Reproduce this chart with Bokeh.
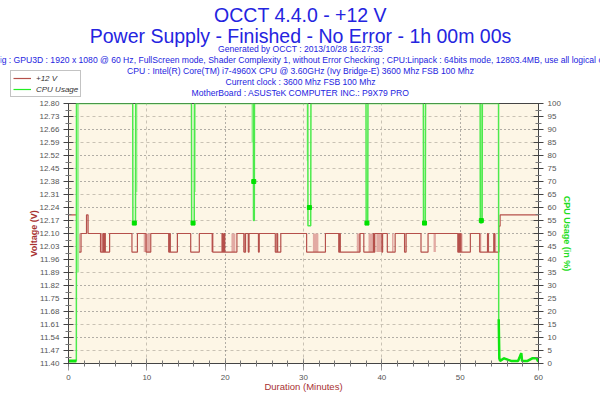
from bokeh.plotting import figure
from bokeh.layouts import column
from bokeh.models import (Range1d, LinearAxis, FixedTicker, Grid, Legend, LegendItem)
from bokeh.core.properties import value
from bokeh.embed import file_html
from bokeh.resources import INLINE

# ---------------- data ----------------
# +12 V rail: step changes (minute, volts)
volt_t = [0.0, 1.1, 1.6, 2.3, 2.5, 4.1, 4.4, 4.5, 4.6, 4.7, 5.25, 8.1, 8.8,
          9.9, 10.5, 12.8, 12.9, 13.0, 13.9, 15.6, 16.7, 18.4, 19.6, 19.7,
          19.85, 19.95, 21.5, 22.4, 22.6, 22.95, 23.05, 24.1, 24.25, 24.35,
          26.4, 26.6, 26.7, 27.1, 30.4, 32.7, 32.8, 34.5, 34.6, 34.7, 37.2,
          37.7, 38.9, 39.0, 39.1, 40.0, 40.1, 40.7, 41.7, 42.9, 43.1, 45.0,
          45.9, 49.7, 49.8, 49.9, 50.0, 50.1, 51.3, 52.5, 53.5, 53.6, 54.3,
          54.4, 54.95, 55.1, 60.0]
volt_v = [12.20, 12.00, 12.10, 12.20, 12.10, 12.00, 12.10, 12.00, 12.10,
          12.00, 12.10, 12.00, 12.10, 12.00, 12.10, 12.00, 12.10, 12.00,
          12.10, 12.00, 12.10, 12.00, 12.10, 12.00, 12.10, 12.00, 12.10,
          12.00, 12.10, 12.00, 12.10, 12.10, 12.00, 12.10, 12.00, 12.10,
          12.00, 12.10, 12.00, 12.00, 12.10, 12.00, 12.10, 12.00, 12.10,
          12.00, 12.10, 12.00, 12.10, 12.00, 12.10, 12.00, 12.10, 12.00,
          12.10, 12.00, 12.10, 12.00, 12.10, 12.00, 12.10, 12.00, 12.10,
          12.00, 12.10, 12.00, 12.10, 12.00, 12.14, 12.20, 12.20]

# stretches where the rail toggles faster than one pixel
jitter_t0 = [1.2, 4.0, 9.6, 12.7, 18.2, 20.8, 22.3, 31.2, 36.8, 38.3, 39.3,
             41.3, 46.6, 49.9, 52.4, 53.4, 54.2]
jitter_t1 = [1.5, 4.4, 10.4, 12.9, 18.5, 21.3, 22.6, 31.9, 37.3, 38.8, 39.9,
             41.5, 46.9, 50.3, 52.7, 53.7, 54.6]

# CPU usage (minute, percent)
cpu_t = [0.0, 1.0, 1.02, 8.2, 8.22, 8.55, 8.58, 15.7, 15.72, 16.05, 16.08,
         23.6, 23.62, 23.72, 23.74, 30.55, 30.57, 30.92, 30.95, 37.98,
         38.0, 38.2, 38.23, 45.3, 45.32, 45.55, 45.58, 52.55, 52.57, 52.8,
         52.83, 54.9, 54.92, 55.0, 55.1, 55.6, 56.5, 57.4, 57.8, 57.9,
         58.6, 59.2, 59.8, 59.9, 60.0]
cpu_v = [1, 1, 100, 100, 54, 54, 100, 100, 54, 54, 100,
         100, 55, 55, 100, 100, 53, 53, 100, 100,
         54, 54, 100, 100, 54, 54, 100, 100, 54, 54,
         100, 100, 17, 2, 1, 2, 1, 1, 4, 1,
         1, 2, 2, 1, 1]
IDLE_START = 2     # samples before the load starts
IDLE_END = 32      # first sample after the load stops

# fading transition bands around the load changes (minute span, lowest %)
band_t0 = [1.0, 8.58, 16.08, 23.35, 30.4, 52.65]
band_t1 = [1.35, 8.8, 16.25, 23.6, 30.57, 52.85]
band_lo = [35, 66, 66, 85, 78, 55]

# sample clusters at the bottom of each dip
blob_t = [8.4, 15.9, 23.65, 30.75, 38.1, 45.45, 52.7]
blob_v = [54, 54, 70, 60, 54, 54, 55]

volt_ticks = [11.40, 11.47, 11.54, 11.61, 11.68, 11.75, 11.82, 11.89, 11.96,
              12.03, 12.10, 12.17, 12.24, 12.31, 12.38, 12.45, 12.52, 12.59,
              12.66, 12.73, 12.80]
cpu_ticks = [0, 5, 10, 15, 20, 25, 30, 35, 40, 45, 50, 55, 60, 65, 70, 75,
             80, 85, 90, 95, 100]
min_ticks = [0, 10, 20, 30, 40, 50, 60]

title_lines = ["OCCT 4.4.0 - +12 V",
               "Power Supply - Finished - No Error - 1h 00m 00s"]
info_lines = [
    "Generated by OCCT : 2013/10/28 16:27:35",
    "Config : GPU3D : 1920 x 1080 @ 60 Hz, FullScreen mode, Shader Complexity 1, "
    "without Error Checking ; CPU:Linpack : 64bits mode, 12803.4MB, use all logical cores",
    "CPU : Intel(R) Core(TM) i7-4960X CPU @ 3.60GHz (Ivy Bridge-E) 3600 Mhz FSB 100 Mhz",
    "Current clock : 3600 Mhz FSB 100 Mhz",
    "MotherBoard : ASUSTeK COMPUTER INC.: P9X79 PRO",
]

FONT = "Liberation Sans"
TITLE_C = "#2424E0"
VOLT_C = "#B5504B"
CPU_C = "#4CEA4C"
CPU_IDLE_C = "#10E610"

# ---------------- header (titles + legend) ----------------
HEAD_H = 97
head = figure(width=600, height=HEAD_H, x_range=Range1d(0, 600),
              y_range=Range1d(HEAD_H, 0), output_backend="svg",
              toolbar_location=None, x_axis_type=None, y_axis_type=None,
              min_border=0, outline_line_color=None, frame_align=False,
              background_fill_color="white", border_fill_color="white")
head.grid.visible = False
head.text(x=[300, 300], y=[14, 35], text=title_lines, text_align="center",
          text_baseline="middle", text_font=value(FONT), text_font_size="19.5px",
          text_color=TITLE_C)
head.text(x=[300] * 5, y=[48, 59, 70, 81, 92], text=info_lines, text_align="center",
          text_baseline="middle", text_font=value(FONT), text_font_size="8.6px",
          text_color=TITLE_C)
nan = float("nan")
lv = head.line([nan], [nan], line_color=VOLT_C, line_width=1.2)
lc = head.line([nan], [nan], line_color="#22EE22", line_width=1.2)
lg = Legend(items=[LegendItem(label="+12 V", renderers=[lv]),
                   LegendItem(label="CPU Usage", renderers=[lc])],
            location=(10, 0), orientation="vertical",
            label_text_font=FONT, label_text_font_size="8px",
            label_text_font_style="italic", label_text_color="#333333",
            glyph_width=18, glyph_height=10, label_height=10, spacing=1,
            padding=2, margin=0, label_standoff=5,
            border_line_color="#888888", background_fill_color="white",
            background_fill_alpha=1.0)
head.add_layout(lg)

# ---------------- chart ----------------
p = figure(width=600, height=400 - HEAD_H, x_range=Range1d(0, 60),
           y_range=Range1d(11.40, 12.80),
           output_backend="svg", toolbar_location=None,
           x_axis_type=None, y_axis_type=None, frame_align=False,
           min_border_left=68, min_border_right=62, min_border_top=6,
           min_border_bottom=37,
           background_fill_color="#FDF6E6", border_fill_color="white",
           outline_line_color="#444444")
p.extra_y_ranges = {"cpu": Range1d(0, 100)}


def style_axis(ax):
    ax.axis_line_color = "#444444"
    ax.major_tick_line_color = "#444444"
    ax.minor_tick_line_color = "#777777"
    ax.major_tick_in = 5
    ax.major_tick_out = 5
    ax.minor_tick_in = 3
    ax.minor_tick_out = 3
    ax.major_label_text_font = FONT
    ax.major_label_text_font_size = "8px"
    ax.major_label_text_color = "#555555"
    ax.major_label_standoff = 4
    ax.axis_label_text_font = FONT
    ax.axis_label_text_font_size = "9px"
    ax.axis_label_text_font_style = "bold"


vminor = [round(a + 0.035, 3) for a in volt_ticks[:-1]]
yl = LinearAxis(ticker=FixedTicker(ticks=volt_ticks, minor_ticks=vminor),
                axis_label="Voltage (V)")
style_axis(yl)
yl.major_label_overrides = {t: f"{t:.2f}" for t in volt_ticks}
yl.axis_label_text_color = "#A83232"
yl.axis_label_standoff = -3
p.add_layout(yl, "left")

cminor = [c + 2.5 for c in cpu_ticks[:-1]]
yr = LinearAxis(y_range_name="cpu",
                ticker=FixedTicker(ticks=cpu_ticks, minor_ticks=cminor),
                axis_label="CPU Usage (in %)")
style_axis(yr)
yr.axis_label_text_color = "#22DD22"
yr.axis_label_standoff = -2
p.add_layout(yr, "right")

xb = LinearAxis(ticker=FixedTicker(ticks=min_ticks, minor_ticks=list(range(0, 61, 2))),
                axis_label="Duration (Minutes)")
style_axis(xb)
xb.major_tick_out = 7
xb.major_tick_line_color = "#999999"
xb.axis_label_text_color = "#A83232"
xb.axis_label_text_font_style = "normal"
xb.axis_label_text_font_size = "9.5px"
xb.axis_label_standoff = -2
p.add_layout(xb, "below")

# grid: dark dotted / light dashed alternating
p.add_layout(Grid(dimension=1, ticker=FixedTicker(ticks=volt_ticks[0::2]),
                  grid_line_color="#666666", grid_line_dash="1 3"))
p.add_layout(Grid(dimension=1, ticker=FixedTicker(ticks=volt_ticks[1::2]),
                  grid_line_color="#C9C2B4", grid_line_dash="3 3"))
p.add_layout(Grid(dimension=0, ticker=FixedTicker(ticks=[20, 50]),
                  grid_line_color="#666666", grid_line_dash="1 3"))
p.add_layout(Grid(dimension=0, ticker=FixedTicker(ticks=[10, 30, 40]),
                  grid_line_color="#C9C2B4", grid_line_dash="3 3"))

# voltage
p.quad(left=jitter_t0, right=jitter_t1, bottom=12.00, top=12.10,
       fill_color="#E2AAA3", line_color=None)
p.step(volt_t, volt_v, mode="after", line_color=VOLT_C, line_width=1.2)

# cpu
p.quad(left=band_t0, right=band_t1, bottom=band_lo, top=100, y_range_name="cpu",
       fill_color="#A6F29A", line_color=None)
p.line(cpu_t, cpu_v, y_range_name="cpu", line_color=CPU_C, line_width=1.5)
# idle stretches are densely sampled and read as a heavier trace
p.line(cpu_t[:IDLE_START], cpu_v[:IDLE_START], y_range_name="cpu",
       line_color=CPU_IDLE_C, line_width=3)
p.line(cpu_t[IDLE_END:], cpu_v[IDLE_END:], y_range_name="cpu",
       line_color=CPU_IDLE_C, line_width=2.5)
p.scatter(blob_t, blob_v, y_range_name="cpu", marker="square", size=4,
          fill_color="#00E000", line_color="#00E000")

layout = column(head, p, spacing=0)
open("out.html", "w").write(file_html(layout, INLINE))
